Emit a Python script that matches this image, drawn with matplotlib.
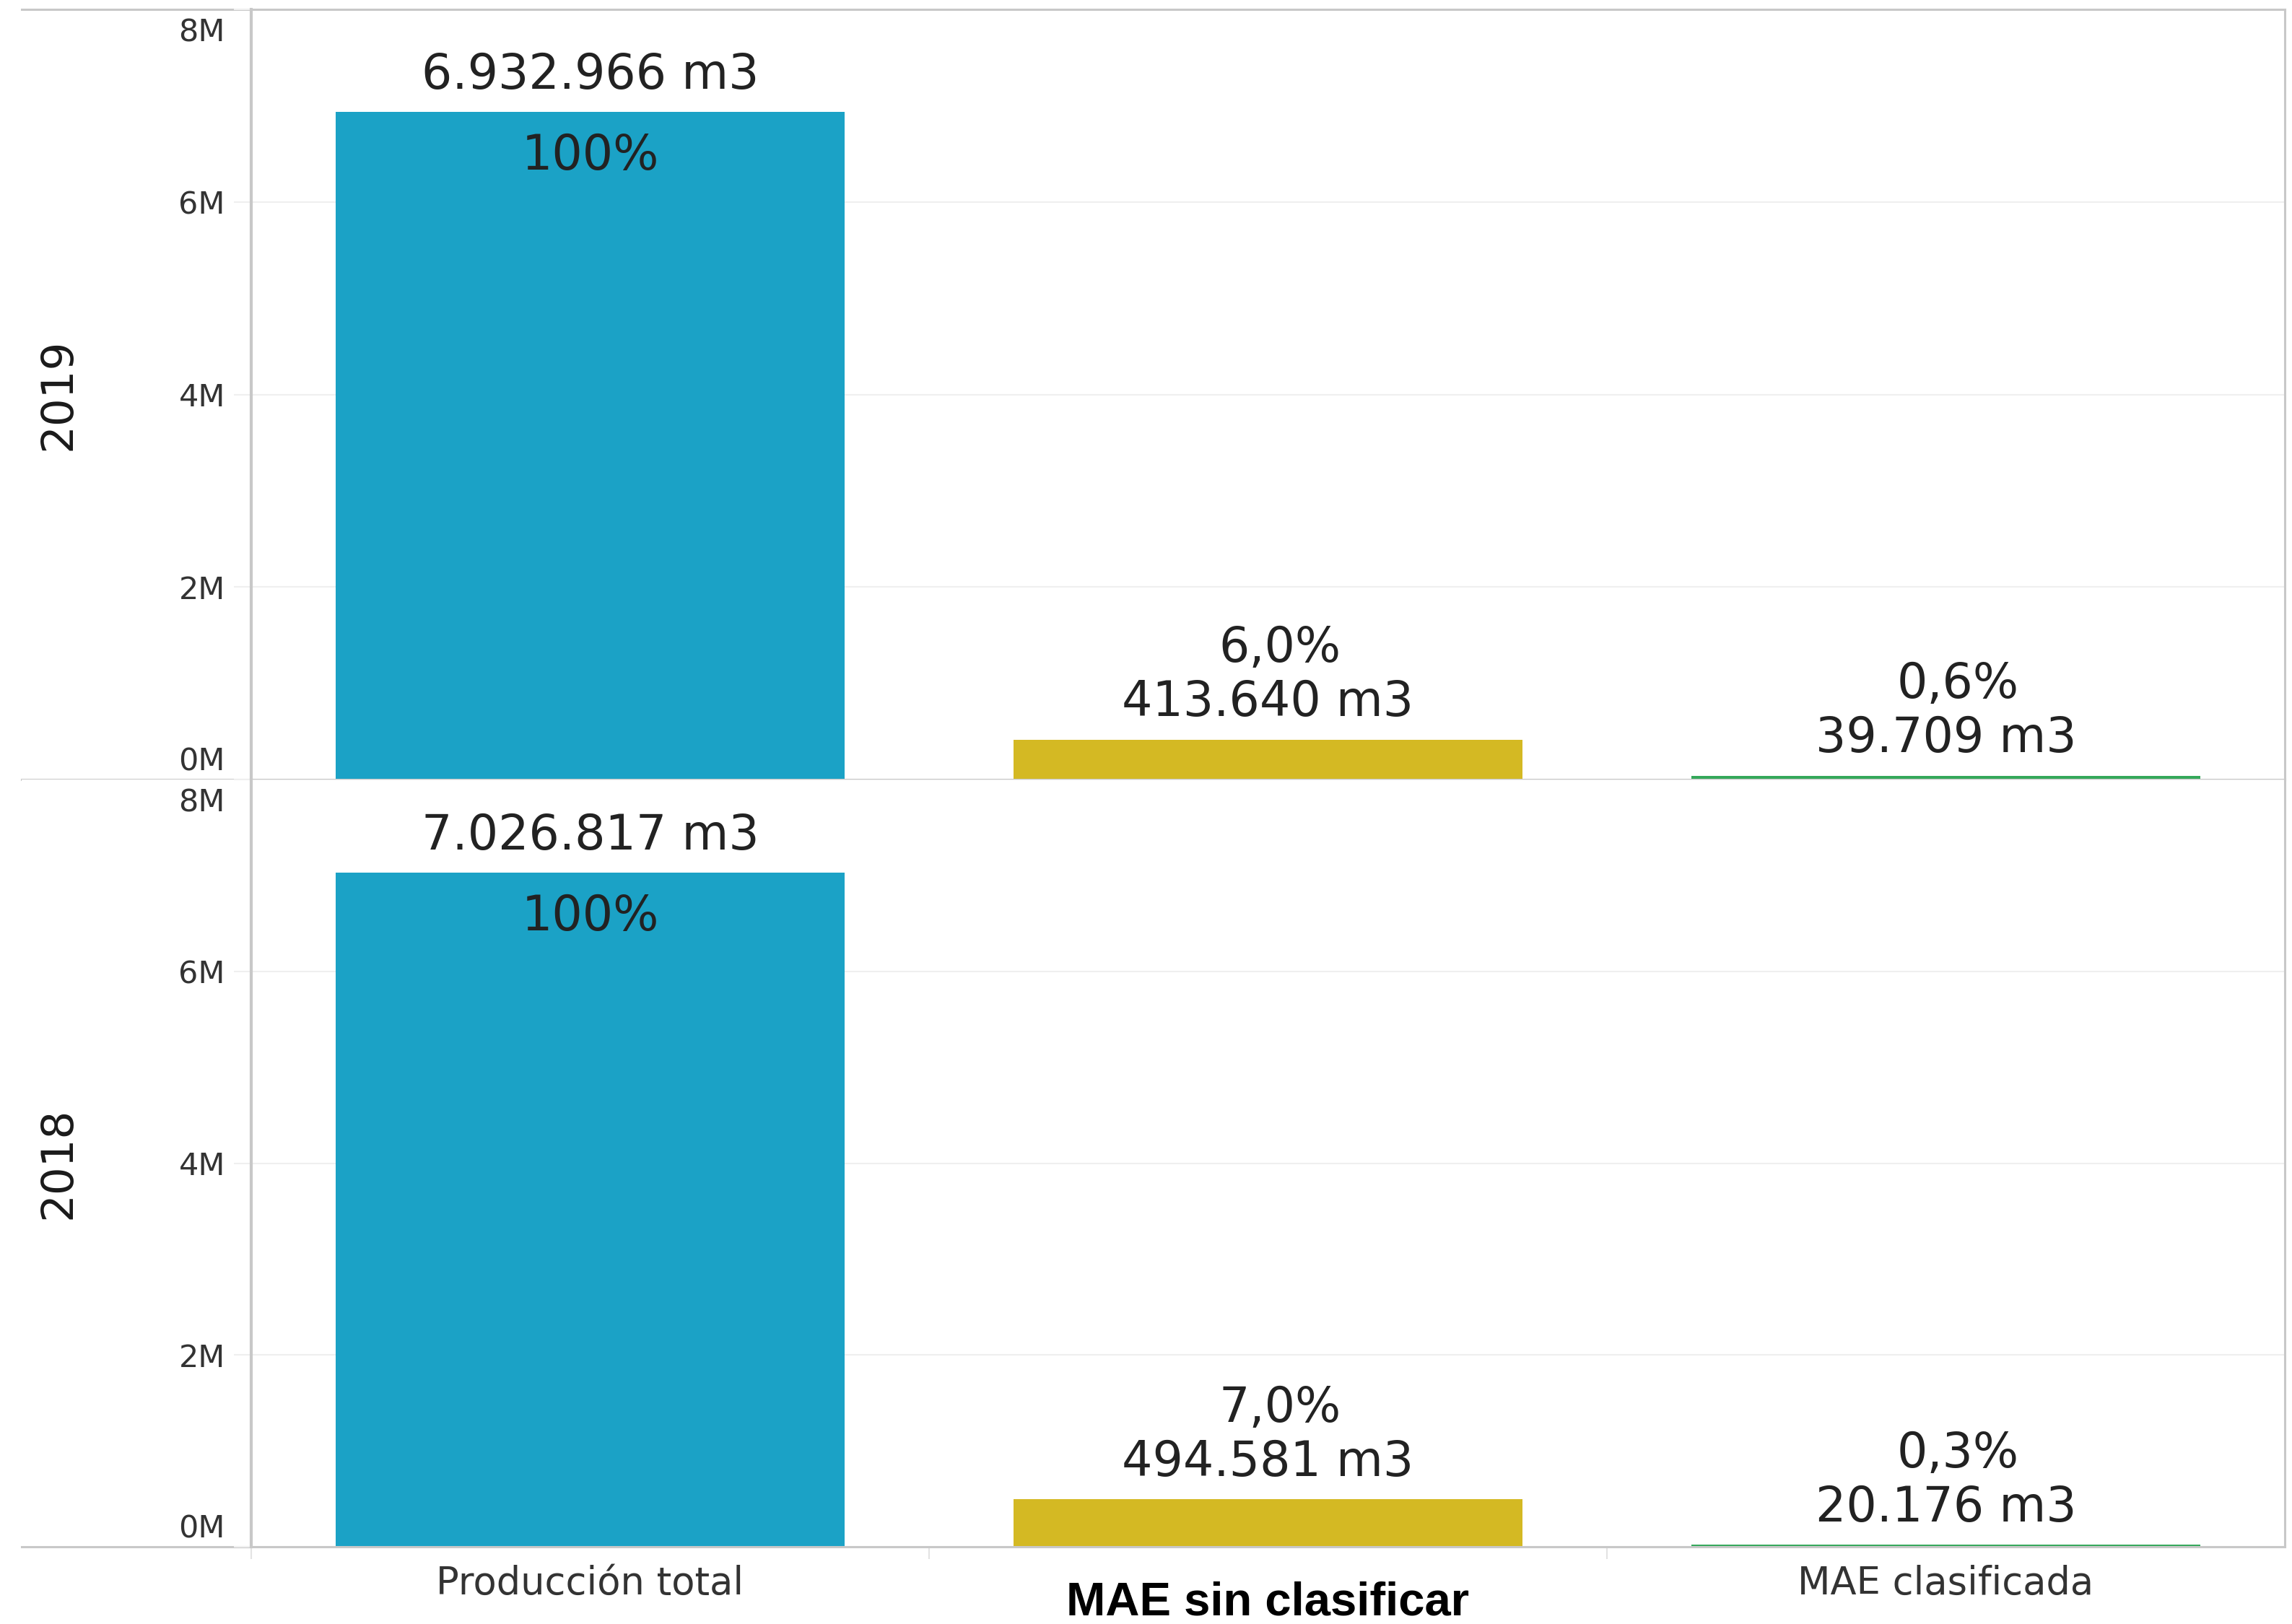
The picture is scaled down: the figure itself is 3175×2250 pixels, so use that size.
import matplotlib
matplotlib.use('Agg')
from matplotlib import pyplot as plt
from matplotlib.transforms import ScaledTranslation

# Data
years = ['2019', '2018']
categories = ['Producción total', 'MAE sin clasificar', 'MAE clasificada']
vol_2019 = [6932966, 413640, 39709]
vol_2018 = [7026817, 494581, 20176]
y_ticks = [0, 2e6, 4e6, 6e6, 8e6]
y_tick_labels = ['0M', '2M', '4M', '6M', '8M']

BAR_COLORS = ['#1ba2c6', '#d4b923', '#34a85a']
LINE_COLOR = '#c8c8c8'
GRID_COLOR = '#efefef'

W, H = 3175, 2250


def rect(left, top, right, bottom):
    # pixel box -> figure fraction
    return [left / W, 1 - bottom / H, (right - left) / W, (bottom - top) / H]


def fmt_m3(v):
    return f"{v:,}".replace(',', '.') + ' m3'


def fmt_pct(p):
    return f"{p:.1f}".replace('.', ',') + '%'


fig = plt.figure(figsize=(W / 100, H / 100), dpi=100)
fig.patch.set_facecolor('white')

panels = [(years[0], vol_2019, 13, 1080), (years[1], vol_2018, 1080, 2143)]
axes = []
for row, (year, vols, top, bottom) in enumerate(panels):
    # row header cell
    axh = fig.add_axes(rect(30, top, 348, bottom))
    axh.set_xticks([])
    axh.set_yticks([])
    for side in ['left', 'right']:
        axh.spines[side].set_visible(False)
    axh.spines['top'].set_visible(row == 0)
    for side in ['top', 'bottom']:
        axh.spines[side].set_color(LINE_COLOR)
        axh.spines[side].set_linewidth(2.2)
    axh.text(0.16, 0.5, year, rotation=90, ha='center', va='center',
             fontsize=44, color='#1a1a1a')

    ax = fig.add_axes(rect(348, top, 3165, bottom))
    axes.append(ax)
    x = range(len(categories))
    ax.bar(x, vols, width=0.75, color=BAR_COLORS)
    ax.set_xlim(-0.5, 2.5)
    ax.set_ylim(0, 8e6)

    # spines
    for side in ['left', 'right', 'top', 'bottom']:
        ax.spines[side].set_color(LINE_COLOR)
        ax.spines[side].set_linewidth(2.2)
    ax.spines['left'].set_linewidth(3)
    ax.spines['top'].set_visible(row == 0)

    # y axis
    ax.set_yticks(y_ticks, y_tick_labels)
    ax.yaxis.grid(True, color=GRID_COLOR, lw=1.5)
    ax.set_axisbelow(True)
    ax.tick_params(axis='y', length=17, width=1.5, color=GRID_COLOR, pad=9,
                   labelsize=31, labelcolor='#333333')
    ylabels = ax.get_yticklabels()
    ylabels[0].set_transform(ylabels[0].get_transform()
                             + ScaledTranslation(0, 21 / 72, fig.dpi_scale_trans))
    ylabels[-1].set_transform(ylabels[-1].get_transform()
                              + ScaledTranslation(0, -20 / 72, fig.dpi_scale_trans))

    # bar labels
    total = vols[0]
    for i, v in enumerate(vols):
        ax.annotate(fmt_m3(v), (i, v), xytext=(0, 37), textcoords='offset points',
                    ha='center', va='center', fontsize=48, color='#222222')
        if i == 0:
            ax.annotate('100%', (i, v), xytext=(0, -44), textcoords='offset points',
                        ha='center', va='center', fontsize=48, color='#222222')
        else:
            ax.annotate(fmt_pct(v / total * 100), (i, v), xytext=(12, 91),
                        textcoords='offset points', ha='center', va='center',
                        fontsize=48, color='#222222')

ax1, ax2 = axes
ax1.tick_params(axis='x', which='both', length=0, labelbottom=False)

# category axis on the bottom panel
ax2.set_xticks(range(len(categories)), categories)
ax2.set_xticks([-0.5, 0.5, 1.5], minor=True)
ax2.tick_params(axis='x', which='major', length=0, pad=18, labelsize=38,
                labelcolor='#333333')
ax2.tick_params(axis='x', which='minor', length=12, width=1.5, color='#e3e3e3')
mid = ax2.get_xticklabels()[1]
mid.set_fontsize(47)
mid.set_fontweight('bold')
mid.set_family(['Liberation Sans', 'DejaVu Sans'])
mid.set_color('black')
mid.set_transform(mid.get_transform()
                  + ScaledTranslation(0, -16 / 72, fig.dpi_scale_trans))

fig.savefig('out.png', dpi=100, facecolor='white')
